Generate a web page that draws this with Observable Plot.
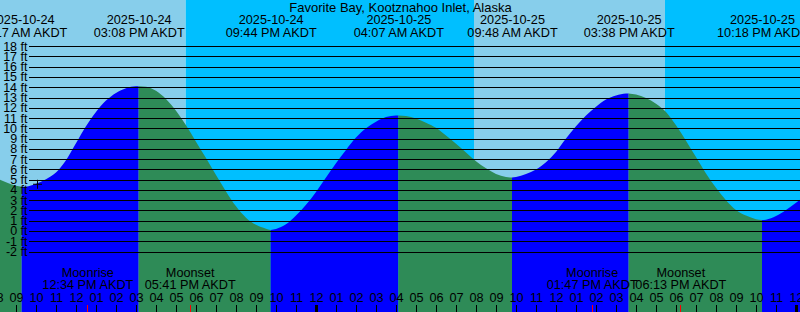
<!DOCTYPE html>
<html><head><meta charset="utf-8">
<script src="https://cdn.jsdelivr.net/npm/d3@7"></script>
<script src="https://cdn.jsdelivr.net/npm/@observablehq/plot@0.6"></script>
<style>html,body{margin:0;padding:0;background:#fff;overflow:hidden}</style>
</head><body><div id="chart"></div>
<script>
const title = "Favorite Bay, Kootznahoo Inlet, Alaska";

// half-hourly water level readings (ft), local AKDT clock time
const tideTimes = [
 "2025-10-24T08:00","2025-10-24T08:30","2025-10-24T09:00","2025-10-24T09:30","2025-10-24T10:00","2025-10-24T10:30",
 "2025-10-24T11:00","2025-10-24T11:30","2025-10-24T12:00","2025-10-24T12:30","2025-10-24T13:00","2025-10-24T13:30",
 "2025-10-24T14:00","2025-10-24T14:30","2025-10-24T15:00","2025-10-24T15:30","2025-10-24T16:00","2025-10-24T16:30",
 "2025-10-24T17:00","2025-10-24T17:30","2025-10-24T18:00","2025-10-24T18:30","2025-10-24T19:00","2025-10-24T19:30",
 "2025-10-24T20:00","2025-10-24T20:30","2025-10-24T21:00","2025-10-24T21:30","2025-10-24T22:00","2025-10-24T22:30",
 "2025-10-24T23:00","2025-10-24T23:30","2025-10-25T00:00","2025-10-25T00:30","2025-10-25T01:00","2025-10-25T01:30",
 "2025-10-25T02:00","2025-10-25T02:30","2025-10-25T03:00","2025-10-25T03:30","2025-10-25T04:00","2025-10-25T04:30",
 "2025-10-25T05:00","2025-10-25T05:30","2025-10-25T06:00","2025-10-25T06:30","2025-10-25T07:00","2025-10-25T07:30",
 "2025-10-25T08:00","2025-10-25T08:30","2025-10-25T09:00","2025-10-25T09:30","2025-10-25T10:00","2025-10-25T10:30",
 "2025-10-25T11:00","2025-10-25T11:30","2025-10-25T12:00","2025-10-25T12:30","2025-10-25T13:00","2025-10-25T13:30",
 "2025-10-25T14:00","2025-10-25T14:30","2025-10-25T15:00","2025-10-25T15:30","2025-10-25T16:00","2025-10-25T16:30",
 "2025-10-25T17:00","2025-10-25T17:30","2025-10-25T18:00","2025-10-25T18:30","2025-10-25T19:00","2025-10-25T19:30",
 "2025-10-25T20:00","2025-10-25T20:30","2025-10-25T21:00","2025-10-25T21:30","2025-10-25T22:00","2025-10-25T22:30",
 "2025-10-25T23:00","2025-10-25T23:30","2025-10-26T00:00","2025-10-26T00:30"
];
const tideHeights = [
 5.15,4.75,4.4,4.32,4.6,5.05,
 5.7,6.9,8.55,10.2,11.6,12.7,
 13.45,13.9,14.1,14.05,13.65,12.85,
 11.7,10.3,8.7,7.1,5.45,3.85,
 2.4,1.3,0.6,0.22,0.2,0.65,
 1.5,2.55,3.8,5.2,6.6,7.9,
 9.1,10.0,10.65,11.1,11.25,11.2,
 10.95,10.55,10.05,9.3,8.5,7.65,
 6.8,6.1,5.55,5.25,5.25,5.55,
 6.0,6.7,7.7,9.0,10.2,11.25,
 12.1,12.8,13.2,13.4,13.3,12.95,
 12.4,11.6,10.3,8.8,7.2,5.6,
 4.2,3.0,2.05,1.5,1.15,1.1,
 1.45,2.05,2.75,3.5
];

// high / low tide events
const eventTimes = ["2025-10-24T09:17","2025-10-24T15:08","2025-10-24T21:44","2025-10-25T04:07","2025-10-25T09:48","2025-10-25T15:38","2025-10-25T22:18"];
const eventHeights = [4.3, 14.1, 0.1, 11.25, 5.2, 13.4, 1.07];
const eventDates = ["2025-10-24","2025-10-24","2025-10-24","2025-10-25","2025-10-25","2025-10-25","2025-10-25"];
const eventClocks = ["09:17 AM AKDT","03:08 PM AKDT","09:44 PM AKDT","04:07 AM AKDT","09:48 AM AKDT","03:38 PM AKDT","10:18 PM AKDT"];

// moon events
const moonKinds = ["Moonrise","Moonset","Moonrise","Moonset"];
const moonTimes = ["2025-10-24T12:34","2025-10-24T17:41","2025-10-25T13:47","2025-10-25T18:13"];
const moonClocks = ["12:34 PM AKDT","05:41 PM AKDT","01:47 PM AKDT","06:13 PM AKDT"];

// daylight / night periods
const skyStarts = ["2025-10-24T08:12","2025-10-24T17:29","2025-10-25T07:54","2025-10-25T17:27"];
const skyEnds   = ["2025-10-24T17:29","2025-10-25T07:54","2025-10-25T17:27","2025-10-26T00:12"];
const skyKinds  = ["day","night","day","night"];

// y axis tick values (ft)
const ftTicks = d3.range(-2, 19);

// "now" marker
const nowTime = "2025-10-24T10:03";
const nowHeight = 4.6;

const parse = d3.utcParse("%Y-%m-%dT%H:%M");
const xStart = parse("2025-10-24T08:12"), xEnd = parse("2025-10-26T00:12");
const DAY = "#87CEEB", NIGHT = "#00BFFF", RISING = "#0000FF", FALLING = "#2E8B57";

const pts = tideTimes.map((t, i) => ({t: parse(t), h: tideHeights[i]}));
const ext = eventTimes.map((t, i) => ({t: parse(t), h: eventHeights[i], date: eventDates[i], clock: eventClocks[i]}));
const allPts = [...pts, ...ext].sort((a, b) => a.t - b.t);
const bounds = [-Infinity, ...ext.map(e => +e.t), Infinity];
const segData = [];
for (let k = 0; k < bounds.length - 1; k++) {
  const seg = allPts.filter(p => +p.t >= bounds[k] && +p.t <= bounds[k + 1]);
  if (seg.length < 2) continue;
  const rising = seg[seg.length - 1].h > seg[0].h;
  seg.forEach(p => segData.push({t: p.t, h: p.h, seg: k, fill: rising ? RISING : FALLING}));
}
const sky = skyKinds.map((k, i) => ({start: parse(skyStarts[i]), end: parse(skyEnds[i]), fill: k === "day" ? DAY : NIGHT}));
const moon = moonKinds.map((k, i) => ({t: parse(moonTimes[i]), kind: k, clock: moonClocks[i]}));
const hours = d3.utcHour.range(parse("2025-10-24T08:00"), parse("2025-10-26T00:01"));
const midnights = hours.filter(d => d.getUTCHours() === 0);
const plainHours = hours.filter(d => d.getUTCHours() !== 0);
const fmtHour = d3.utcFormat("%I");
const plusSymbol = {draw(ctx) { const r = 4.5; ctx.moveTo(-r, 0); ctx.lineTo(r, 0); ctx.moveTo(0, -r); ctx.lineTo(0, r); }};

const chart = Plot.plot({
  width: 800, height: 312, margin: 0,
  x: {type: "utc", domain: [xStart, xEnd], range: [0, 800], axis: null},
  y: {domain: [-8, 22.5], range: [313.1, 0], axis: null},
  color: {type: "identity"},
  style: {fontFamily: "'Liberation Sans', Arial, sans-serif", fontSize: "12.7px", background: "white", color: "black"},
  marks: [
    Plot.rect(sky, {x1: "start", x2: "end", y1: -8, y2: 22.5, fill: "fill"}),
    Plot.areaY(segData, {x: "t", y1: -8, y2: "h", z: "seg", fill: "fill", curve: "monotone-x"}),
    Plot.ruleY(ftTicks, {y: d => d, insetLeft: 29, stroke: "black", shapeRendering: "crispEdges"}),
    Plot.text(ftTicks, {y: d => d, text: d => `${d} ft`, frameAnchor: "left", dx: 27, textAnchor: "end", fill: "black", fontSize: 12.5}),
    Plot.text([title], {text: d => d, frameAnchor: "top", dy: 11, lineAnchor: "bottom", fill: "black", fontSize: 13}),
    Plot.text(ext, {x: "t", text: d => d.date + "\n" + d.clock, frameAnchor: "top", dy: 36, lineAnchor: "bottom", lineHeight: 0.95, fill: "black"}),
    Plot.text(moon, {x: "t", text: d => d.kind + "\n" + d.clock, frameAnchor: "top", dy: 288.3, lineAnchor: "bottom", lineHeight: 0.92, fill: "black"}),
    Plot.text(hours, {x: d => d, text: d => fmtHour(d), frameAnchor: "top", dy: 301.7, lineAnchor: "bottom", fill: "black"}),
    Plot.ruleX(plainHours, {x: d => d, insetTop: 305, stroke: "black", shapeRendering: "crispEdges"}),
    Plot.ruleX(midnights, {x: d => d, insetTop: 305, stroke: "black", strokeWidth: 3, shapeRendering: "crispEdges"}),
    Plot.ruleX(moon, {x: "t", insetTop: 305, stroke: "red", shapeRendering: "crispEdges"}),
    Plot.dot([{t: parse(nowTime), h: nowHeight}], {x: "t", y: "h", symbol: plusSymbol, stroke: "black", fill: "none", strokeWidth: 1})
  ]
});
document.getElementById("chart").appendChild(chart);
</script></body></html>
